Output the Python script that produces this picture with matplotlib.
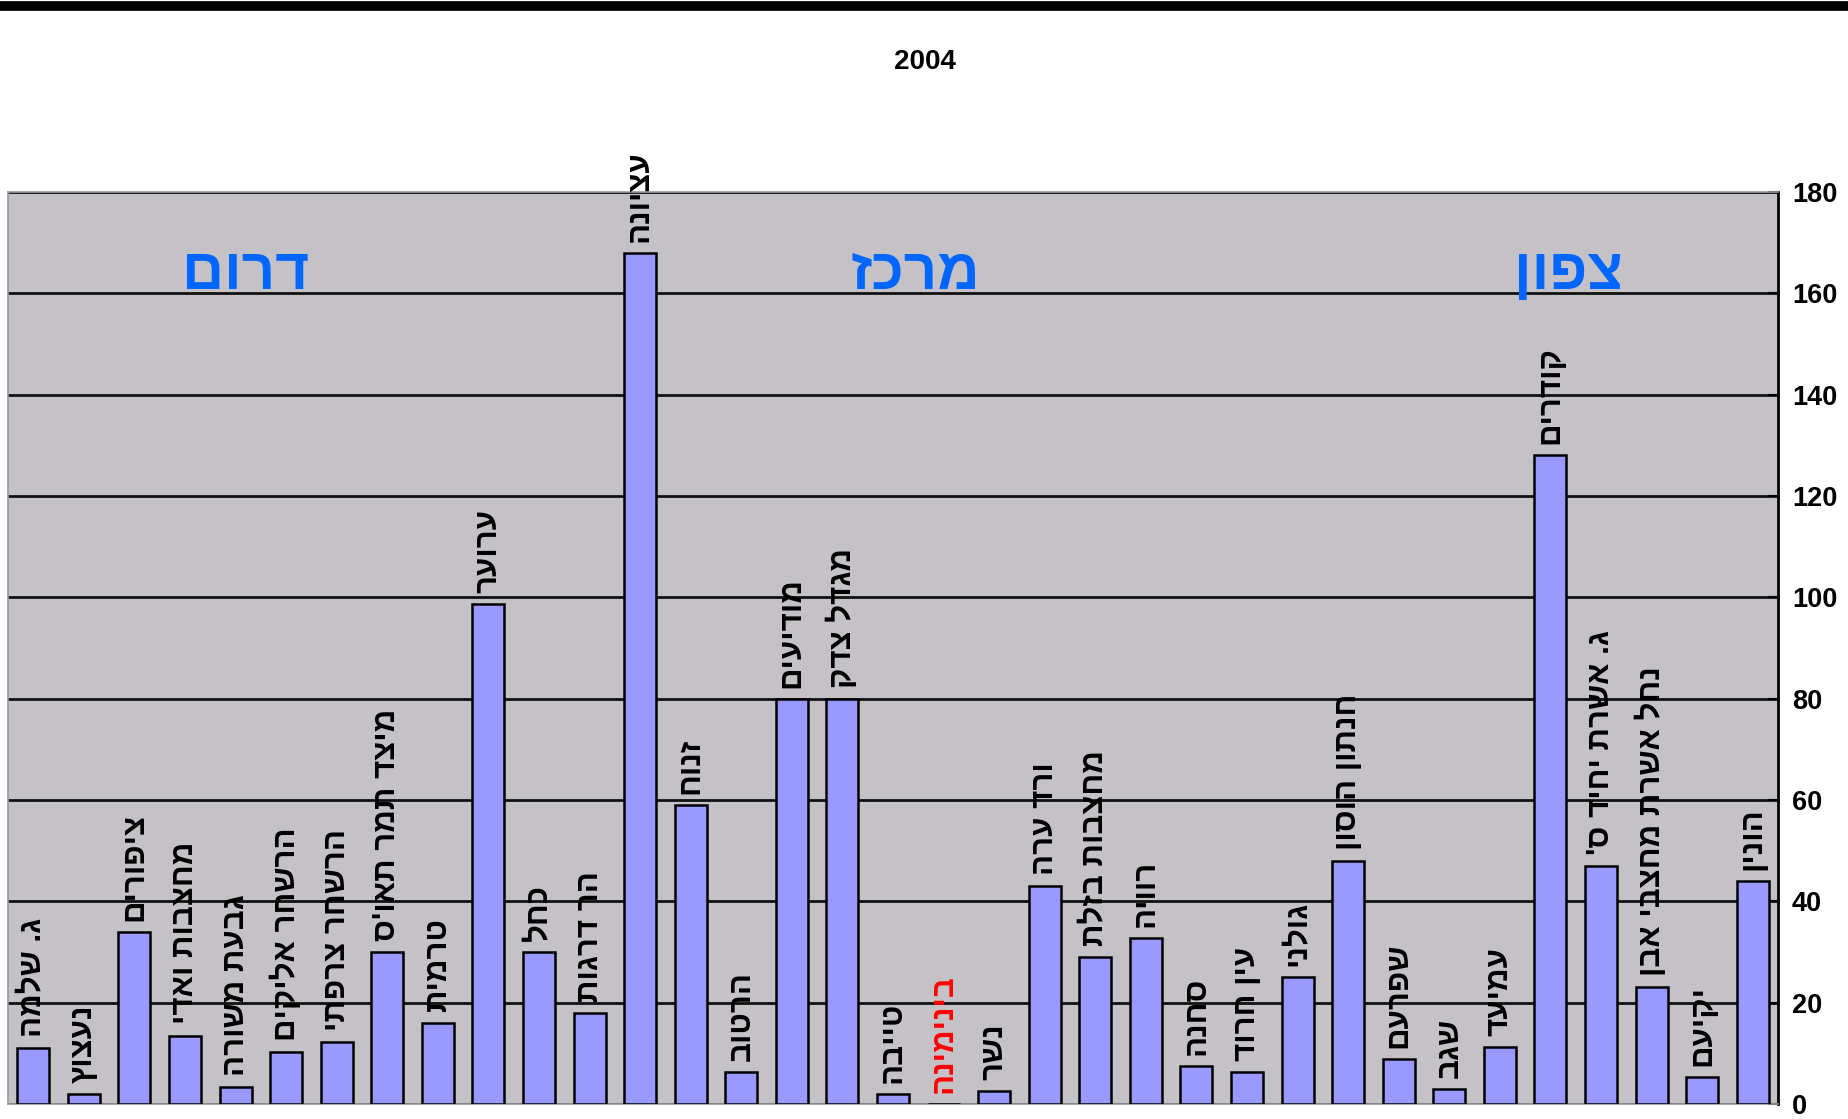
import matplotlib
matplotlib.use("Agg")
import matplotlib.pyplot as plt
from matplotlib.lines import Line2D
import numpy as np

# ---- data -------------------------------------------------------------
sites = [
    "ג. שלמה", "נעצוץ", "ציפורים", "מחצבות ואדי", "גבעת משורה",
    "הרשחר אליקים", "הרשחר צרפתי", "מיצד תמר תאו'ס", "טרמית", "ערוער",
    "כחל", "הר דרגות", "עציונה", "זנוח", "הרטוב",
    "מודיעים", "מגדל צדק", "טייבה", "בינימינה", "נשר",
    "ורד ערה", "מחצבות בזלת", "רוויה", "סחנה", "עין חרוד",
    "גולני", "חנתון הוסון", "שפרעם", "שגב", "עמיעד",
    "קודרים", "ג. אשרת יחיד ס'", "נחל אשרת מחצבי אבן", "יקיעם", "הונין",
]
values = [
    11, 2, 34, 13.5, 3.3,
    10.3, 12.3, 30, 16, 98.6,
    30, 18, 168, 59, 6.3,
    80, 80, 1.9, 0, 2.6,
    43, 29, 32.7, 7.5, 6.3,
    25, 48, 8.8, 3, 11.3,
    128, 47, 23, 5.3, 44,
]
highlight = ["בינימינה"]
regions = ["דרום", "מרכז", "צפון"]
region_pos = [4.2, 17.45, 30.35]
title = "2004"
yticks = [0, 20, 40, 60, 80, 100, 120, 140, 160, 180]

# ---- style ------------------------------------------------------------
HEB = ["Liberation Sans", "DejaVu Sans"]
NUM = ["Liberation Sans", "DejaVu Sans"]
BAR = "#9999FF"
BG = "#C4C2C6"
BLUE = "#0066FF"

def visual(s):
    # matplotlib has no bidi support: reverse logical Hebrew order
    return s[::-1]

fig = plt.figure(figsize=(18.49, 11.19), dpi=100)
fig.patch.set_facecolor("white")
ax = fig.add_axes([8 / 1849, 1 - 1104 / 1119, (1778 - 8) / 1849, (1104 - 192) / 1119])
ax.set_facecolor(BG)

x = np.arange(len(sites))
ax.bar(x, values, width=0.63, color=BAR, edgecolor="black", linewidth=1.8, zorder=3)

ax.set_xlim(-0.5, len(sites) - 0.5)
ax.set_ylim(0, 180)
ax.set_yticks(yticks)
ax.set_xticks([])
ax.yaxis.tick_right()
ax.tick_params(axis="y", direction="in", length=7, width=1.5, pad=10, colors="black")
for lab in ax.get_yticklabels():
    lab.set_fontfamily(NUM)
    lab.set_fontweight("bold")
    lab.set_fontsize(19.5)

ax.grid(axis="y", color="#111111", linewidth=2.0, zorder=1)
ax.set_axisbelow(True)
for side in ("left", "top", "bottom"):
    ax.spines[side].set_color("#9a9a9a")
    ax.spines[side].set_linewidth(1.2)
ax.spines["right"].set_color("black")
ax.spines["right"].set_linewidth(2)

# bar labels
for xi, v, name in zip(x, values, sites):
    col = "#FF0000" if name in highlight else "black"
    ax.annotate(visual(name), xy=(xi, v), xytext=(0, 8), textcoords="offset points",
                rotation=90, ha="center", va="bottom", fontsize=22.5,
                fontweight="bold", family=HEB, color=col, zorder=4,
                annotation_clip=False)

# region labels
for name, pos in zip(regions, region_pos):
    ax.text(pos, 160.8, visual(name), ha="center", va="baseline", fontsize=42,
            fontweight="bold", family=HEB, color=BLUE, zorder=4)

# title and top rule
fig.text(925 / 1849, 1 - 62 / 1119, title, ha="center", va="center",
         fontsize=20, fontweight="bold", family=NUM)
fig.add_artist(Line2D([0, 1], [1 - 6 / 1119, 1 - 6 / 1119], color="black",
                      linewidth=7, transform=fig.transFigure))

fig.savefig("out.png", dpi=100, facecolor="white")
